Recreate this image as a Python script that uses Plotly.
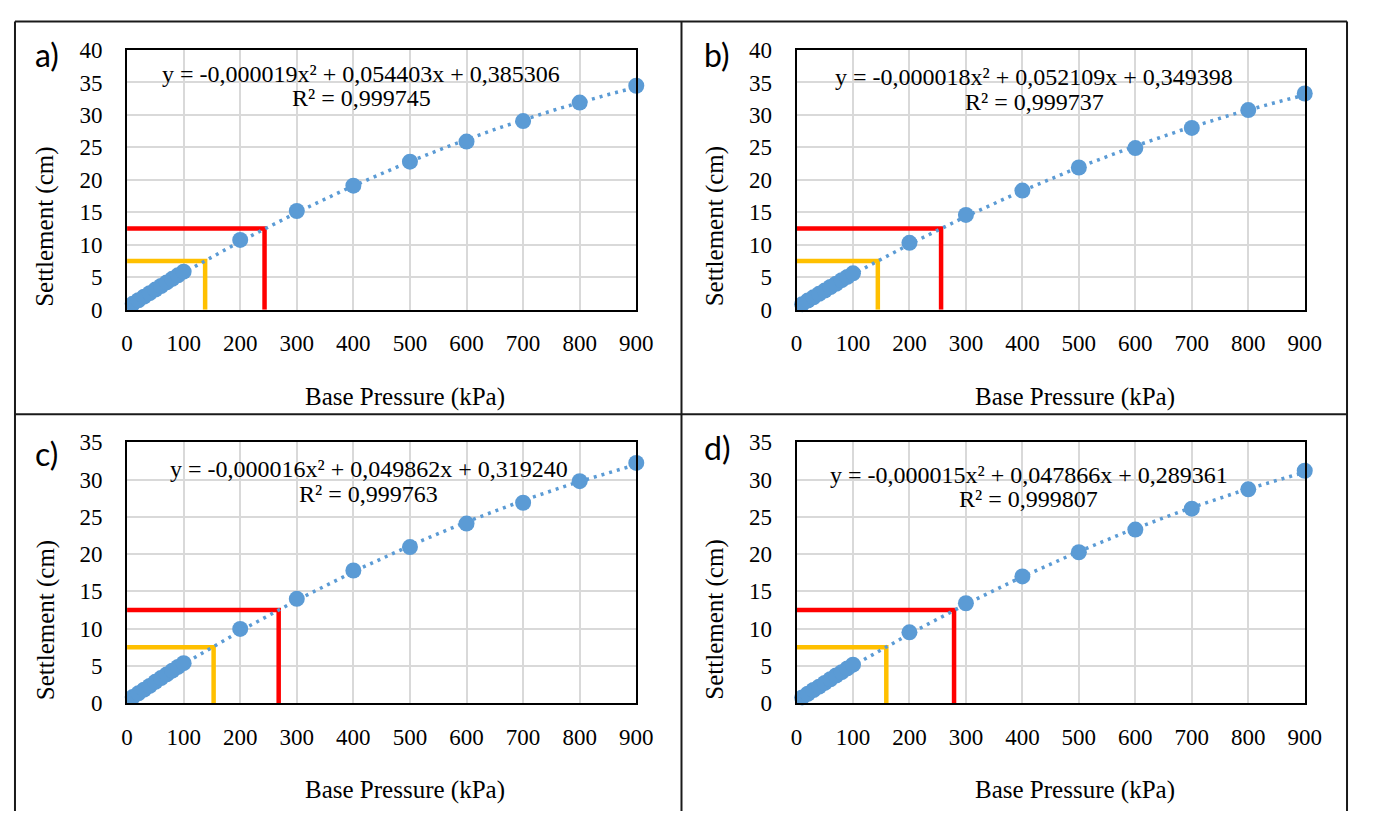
import numpy as np
import plotly.graph_objects as go

# the page keeps the browser's default 8 px body margin, so the figure is
# sized to fit inside it and every position below is given in window pixels
OFF = 8
W, H = 1373 - 2 * OFF, 819 - 2 * OFF

# ---------------- data ----------------
pressure = [10, 20, 30, 40, 50, 60, 70, 80, 90, 100, 200, 300, 400, 500, 600, 700, 800, 900]
settle_a = [0.9, 1.45, 2.0, 2.55, 3.1, 3.65, 4.2, 4.75, 5.3, 5.85, 10.75, 15.2, 19.1, 22.8, 25.9, 29.05, 31.9, 34.5]
settle_b = [0.85, 1.4, 1.9, 2.45, 2.95, 3.5, 4.0, 4.55, 5.05, 5.6, 10.3, 14.6, 18.35, 21.9, 24.9, 28.0, 30.75, 33.3]
settle_c = [0.8, 1.3, 1.8, 2.3, 2.85, 3.35, 3.85, 4.35, 4.85, 5.35, 9.95, 14.0, 17.8, 20.95, 24.1, 26.9, 29.8, 32.25]
settle_d = [0.75, 1.25, 1.75, 2.2, 2.7, 3.2, 3.7, 4.15, 4.65, 5.15, 9.5, 13.4, 17.0, 20.25, 23.3, 26.1, 28.7, 31.2]

equations = [
    "y = -0,000019x² + 0,054403x + 0,385306",
    "y = -0,000018x² + 0,052109x + 0,349398",
    "y = -0,000016x² + 0,049862x + 0,319240",
    "y = -0,000015x² + 0,047866x + 0,289361",
]
r2_labels = ["R² = 0,999745", "R² = 0,999737", "R² = 0,999763", "R² = 0,999807"]
panel_labels = ["a)", "b)", "c)", "d)"]

# settlement limits (cm) and the pressures where the trend reaches them
limit_orange = 7.5
limit_red = 12.5
press_orange = [138, 144, 153, 159]
press_red = [243, 256, 268, 279]

y_max = [40, 40, 35, 35]
x_max = 900

# ---------------- layout geometry (window pixels) ----------------
plot_boxes = [  # left, right, top, bottom
    (123, 641, 39, 307),
    (804, 1321, 39, 307),
    (123, 641, 444, 713),
    (804, 1321, 444, 713),
]
eq_pos = [(361, 64, 89), (1046, 67, 93), (369, 471, 497), (1040, 478, 502)]
label_pos = [(27, 44), (708, 44), (27, 455), (708, 449)]
xtitle_pos = [(406, 397), (1087, 397), (406, 803), (1087, 803)]
ytitle_pos = [(40, 221), (721, 221), (40, 627), (721, 627)]


def px(x):
    return (x - OFF) / W


def py(y):
    return 1 - (y - OFF) / H


BLUE = "#5B9BD5"
SERIF = "Liberation Serif"

fig = go.Figure()
series = [settle_a, settle_b, settle_c, settle_d]
annotations = []

for i, s in enumerate(series):
    xa = "x" if i == 0 else f"x{i+1}"
    ya = "y" if i == 0 else f"y{i+1}"
    # limit lines
    fig.add_trace(go.Scatter(
        x=[0, press_orange[i], press_orange[i]], y=[limit_orange, limit_orange, 0],
        mode="lines", line=dict(color="#FFC000", width=4.5), xaxis=xa, yaxis=ya,
        showlegend=False, hoverinfo="skip"))
    fig.add_trace(go.Scatter(
        x=[0, press_red[i], press_red[i]], y=[limit_red, limit_red, 0],
        mode="lines", line=dict(color="#FF0000", width=4.5), xaxis=xa, yaxis=ya,
        showlegend=False, hoverinfo="skip"))
    # polynomial trendline (order 2) fitted to the data
    coef = np.polyfit(pressure, s, 2)
    xt = np.linspace(min(pressure), max(pressure), 300)
    fig.add_trace(go.Scatter(
        x=xt, y=np.polyval(coef, xt), mode="lines",
        line=dict(color=BLUE, width=3.5, dash="3px,5px"), xaxis=xa, yaxis=ya,
        showlegend=False, hoverinfo="skip"))
    # data points
    fig.add_trace(go.Scatter(
        x=pressure, y=s, mode="markers",
        marker=dict(color=BLUE, size=16, line=dict(width=0)),
        cliponaxis=False, xaxis=xa, yaxis=ya, showlegend=False))

    l, r, t, b = plot_boxes[i]
    axis_common = dict(
        showgrid=True, gridcolor="#D9D9D9", gridwidth=1.5,
        showline=True, mirror=True, linecolor="black", linewidth=2,
        zeroline=False, ticks="", tickfont=dict(family=SERIF, size=23, color="black"),
        fixedrange=True,
    )
    fig.update_layout(**{
        ("xaxis" if i == 0 else f"xaxis{i+1}"): dict(
            domain=[px(l), px(r)], range=[0, x_max], tick0=0, dtick=100,
            anchor=ya, ticklabelstandoff=12, **axis_common),
        ("yaxis" if i == 0 else f"yaxis{i+1}"): dict(
            domain=[py(b), py(t)], range=[0, y_max[i]], tick0=0, dtick=5,
            anchor=xa, ticklabelstandoff=18, **axis_common),
    })

    ex, ey1, ey2 = eq_pos[i]
    annotations.append(dict(x=px(ex), y=py(ey1), xref="paper", yref="paper",
                            text=equations[i], showarrow=False, xanchor="center", yanchor="middle",
                            font=dict(family=SERIF, size=24, color="black")))
    annotations.append(dict(x=px(ex), y=py(ey2), xref="paper", yref="paper",
                            text=r2_labels[i], showarrow=False, xanchor="center", yanchor="middle",
                            font=dict(family=SERIF, size=24, color="black")))
    lx, ly = label_pos[i]
    annotations.append(dict(x=px(lx), y=py(ly), xref="paper", yref="paper",
                            text=panel_labels[i], showarrow=False, xanchor="left", yanchor="middle",
                            font=dict(family="Lato", size=32, color="black")))
    tx, ty = xtitle_pos[i]
    annotations.append(dict(x=px(tx), y=py(ty), xref="paper", yref="paper",
                            text="Base Pressure (kPa)", showarrow=False, xanchor="center", yanchor="middle",
                            font=dict(family=SERIF, size=25, color="black")))
    vx, vy = ytitle_pos[i]
    annotations.append(dict(x=px(vx), y=py(vy), xref="paper", yref="paper",
                            text="Settlement (cm)", showarrow=False, textangle=-90,
                            xanchor="center", yanchor="middle",
                            font=dict(family=SERIF, size=25, color="black")))

# panel frames
frame = dict(color="#1a1a1a", width=2)
fl, fr, ft, fm, fv = 9, 1364, 9.5, 415, 687
shapes = [
    dict(type="line", xref="paper", yref="paper", x0=px(fl), x1=px(fl), y0=py(ft), y1=py(830), line=frame),
    dict(type="line", xref="paper", yref="paper", x0=px(fr), x1=px(fr), y0=py(ft), y1=py(830), line=frame),
    dict(type="line", xref="paper", yref="paper", x0=px(fv), x1=px(fv), y0=py(ft), y1=py(830), line=frame),
    dict(type="line", xref="paper", yref="paper", x0=px(fl), x1=px(fr), y0=py(ft), y1=py(ft), line=frame),
    dict(type="line", xref="paper", yref="paper", x0=px(fl), x1=px(fr), y0=py(fm), y1=py(fm), line=frame),
]

fig.update_layout(
    width=W, height=H, autosize=False,
    margin=dict(l=0, r=0, t=0, b=0),
    paper_bgcolor="white", plot_bgcolor="white",
    annotations=annotations, shapes=shapes,
    showlegend=False,
)

fig.write_html("out.html", config={"displayModeBar": False})
